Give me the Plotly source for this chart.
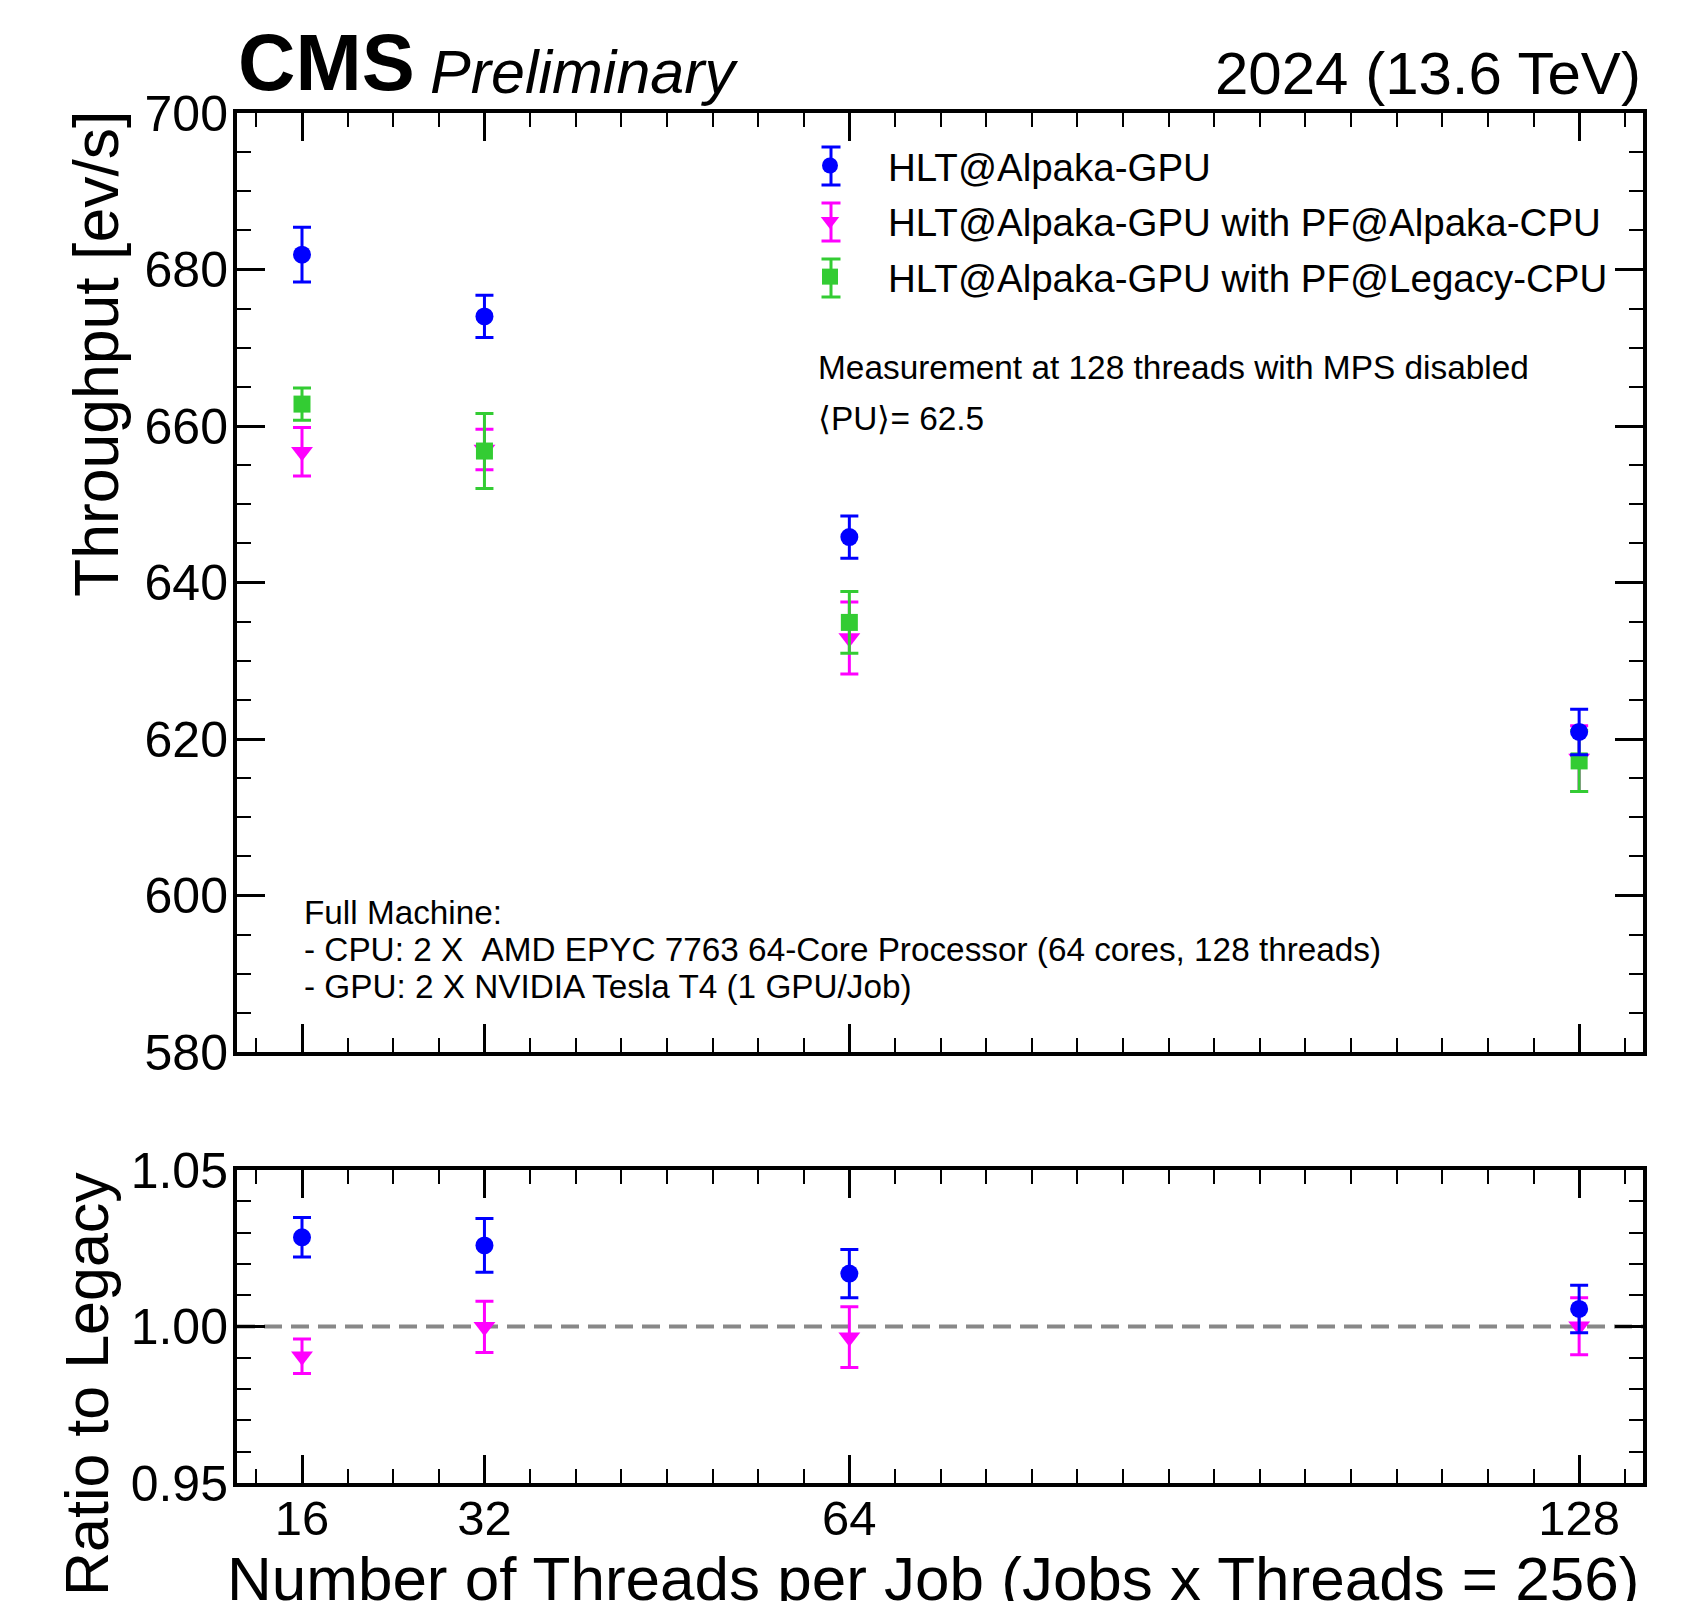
import plotly.graph_objects as go

# ---------------- data ----------------
threads = [16, 32, 64, 128]
x_tick_labels = ["16", "32", "64", "128"]

gpu = [681.9, 674.0, 645.8, 620.9]
gpu_err = [3.5, 2.7, 2.7, 2.9]
pf_alpaka = [656.7, 657.0, 632.9, 617.5]
pf_alpaka_err = [3.1, 2.6, 4.6, 4.2]
pf_legacy = [662.8, 656.8, 634.9, 617.2]
pf_legacy_err = [2.05, 4.8, 3.95, 3.9]

ratio_gpu = [1.0285, 1.0259, 1.0169, 1.0056]
ratio_gpu_err = [0.0063, 0.0086, 0.0077, 0.0076]
ratio_pf = [0.9905, 0.9999, 0.9966, 1.0001]
ratio_pf_err = [0.0055, 0.0082, 0.0097, 0.0091]

names = ["HLT@Alpaka-GPU",
         "HLT@Alpaka-GPU with PF@Alpaka-CPU",
         "HLT@Alpaka-GPU with PF@Legacy-CPU"]

# ---------------- geometry (page pixels; page has 8px body margin) ----------------
OFF = 8
W, H = 1702 - 2 * OFF, 1609 - 2 * OFF
PL, PR, PT, PB = 237, 1643, 113, 1483          # plot area on the page
ML, MR, MT, MB = PL - OFF, W - (PR - OFF), PT - OFF, H - (PB - OFF)
PW, PH = W - ML - MR, H - MT - MB
FONT = "Liberation Sans, Arial, Helvetica, sans-serif"
BLUE, MAG, GREEN = "#0000ff", "#ff00ff", "#33cc33"


def xp(px):
    return (px - OFF - ML) / PW


def yp(py):
    return (H - MB - (py - OFF)) / PH


top_dom = [yp(1052), 1.0]
bot_dom = [0.0, yp(1170)]

fig = go.Figure()

SIZES = {"circle": 18, "square": 17, "triangle-down": 19}


def add(x, y, err, color, symbol, name, xa, ya, show, rank=None):
    fig.add_trace(go.Scatter(
        x=x, y=y, mode="markers", name=name, showlegend=show,
        legendrank=rank if rank else 1000,
        legendgroup=name,
        xaxis=xa, yaxis=ya,
        marker=dict(color=color, symbol=symbol, size=SIZES[symbol], line=dict(width=0)),
        error_y=dict(type="data", array=err, visible=True, color=color,
                     thickness=3, width=9),
    ))


add(threads, pf_alpaka, pf_alpaka_err, MAG, "triangle-down", names[1], "x", "y", True, 2)
add(threads, pf_legacy, pf_legacy_err, GREEN, "square", names[2], "x", "y", True, 3)
add(threads, gpu, gpu_err, BLUE, "circle", names[0], "x", "y", True, 1)
add(threads, ratio_pf, ratio_pf_err, MAG, "triangle-down", names[1], "x2", "y2", False)
add(threads, ratio_gpu, ratio_gpu_err, BLUE, "circle", names[0], "x2", "y2", False)

xrange = [10.3, 133.6]
common_x = dict(range=xrange, tickmode="array", tickvals=threads,
                ticks="inside", ticklen=28, tickwidth=2.5, tickcolor="black",
                showline=True, linewidth=4, linecolor="black", mirror="ticks",
                showgrid=False, zeroline=False,
                minor=dict(tick0=0, dtick=4, ticks="inside", ticklen=14,
                           tickwidth=2, tickcolor="black"))
common_y = dict(ticks="inside", ticklen=28, tickwidth=2.5, tickcolor="black",
                showline=True, linewidth=4, linecolor="black", mirror="ticks",
                showgrid=False, zeroline=False,
                tickfont=dict(family=FONT, size=50, color="black"),
                ticklabelstandoff=-5)

# legend placement (page pixels)
LEG_LEFT, LEG_TOP = 772, 134
LEG_MARK_X = 831
LEG_ROWS = [166, 222, 278]
LEG_COLORS = [BLUE, MAG, GREEN]

fig.update_layout(
    width=W, height=H,
    margin=dict(l=ML, r=MR, t=MT, b=MB, pad=0),
    paper_bgcolor="white", plot_bgcolor="white",
    font=dict(family=FONT, color="black"),
    xaxis=dict(domain=[0, 1], anchor="y", showticklabels=False, **common_x),
    yaxis=dict(domain=top_dom, anchor="x", range=[580, 700], tickmode="linear",
               tick0=580, dtick=20,
               minor=dict(dtick=5, ticks="inside", ticklen=14, tickwidth=2,
                          tickcolor="black"),
               **common_y),
    xaxis2=dict(domain=[0, 1], anchor="y2", matches="x", showticklabels=True,
                ticktext=x_tick_labels,
                tickfont=dict(family=FONT, size=49, color="black"),
                ticklabelstandoff=-11, **common_x),
    yaxis2=dict(domain=bot_dom, anchor="x2", range=[0.95, 1.05], tickmode="array",
                tickvals=[0.95, 1.00, 1.05], ticktext=["0.95", "1.00", "1.05"],
                minor=dict(tick0=0.95, dtick=0.01, ticks="inside", ticklen=14,
                           tickwidth=2, tickcolor="black"),
                **common_y),
    legend=dict(x=xp(LEG_LEFT), y=yp(LEG_TOP), xanchor="left", yanchor="top",
                bgcolor="rgba(0,0,0,0)", font=dict(family=FONT, size=38.5),
                traceorder="grouped", itemwidth=106, tracegroupgap=2.5),
    showlegend=True,
)

fig.add_shape(type="line", xref="x2 domain", yref="y2", x0=0, x1=1, y0=1.0, y1=1.0,
              line=dict(color="#888888", width=4, dash="18px,9px"), layer="below")

# error-bar whiskers behind the legend symbols (ROOT "ep" style legend glyph)
for row, col in zip(LEG_ROWS, LEG_COLORS):
    half, cap = 19, 9.5
    fig.add_shape(type="line", xref="paper", yref="paper",
                  x0=xp(LEG_MARK_X), x1=xp(LEG_MARK_X), y0=yp(row - half), y1=yp(row + half),
                  line=dict(color=col, width=3), layer="above")
    for end in (row - half, row + half):
        fig.add_shape(type="line", xref="paper", yref="paper",
                      x0=xp(LEG_MARK_X - cap), x1=xp(LEG_MARK_X + cap), y0=yp(end), y1=yp(end),
                      line=dict(color=col, width=3), layer="above")


def ann(text, x, y, size, xanchor="left", yanchor="middle", angle=0, **kw):
    fig.add_annotation(text=text, x=x, y=y, xref="paper", yref="paper",
                       xanchor=xanchor, yanchor=yanchor, showarrow=False,
                       textangle=angle,
                       font=dict(family=FONT, size=size, color="black", **kw))


ann("<b>CMS</b>", xp(236), yp(63), 79.5)
ann("<i>Preliminary</i>", xp(428), yp(72), 61)
ann("2024 (13.6 TeV)", xp(1643), yp(73), 60, xanchor="right")
ann("Measurement at 128 threads with MPS disabled", xp(816), yp(367), 33.4)
ann("\u27e8PU\u27e9= 62.5", xp(816), yp(419), 33.4)
ann("Full Machine:", xp(302), yp(912), 33.3)
ann("- CPU: 2 X \u00a0AMD EPYC 7763 64-Core Processor (64 cores, 128 threads)", xp(302), yp(949), 33.3)
ann("- GPU: 2 X NVIDIA Tesla T4 (1 GPU/Job)", xp(302), yp(986), 33.3)
ann("Throughput [ev/s]", xp(96), yp(109), 62.5, xanchor="center", yanchor="top", angle=-90)
ann("Ratio to Legacy", xp(87), yp(1170), 61, xanchor="center", yanchor="top", angle=-90)
ann("Number of Threads per Job (Jobs x Threads = 256)", xp(1641), yp(1578), 62,
    xanchor="right")

fig.write_html("out.html")
